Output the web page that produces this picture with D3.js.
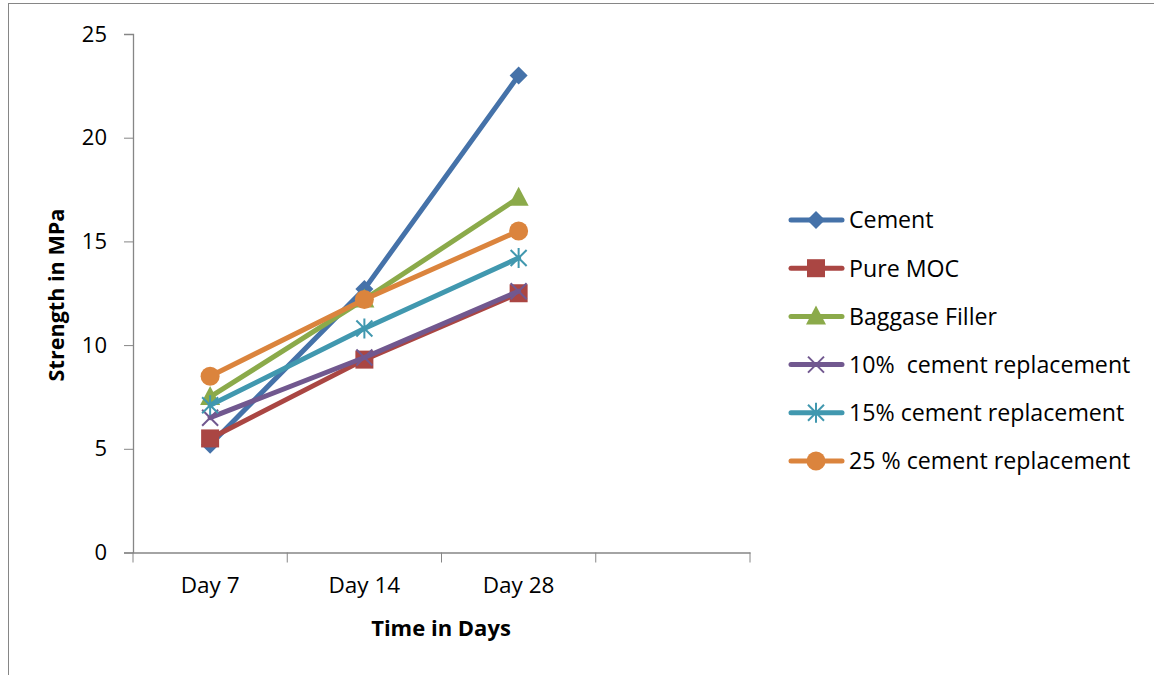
<!DOCTYPE html>
<html><head><meta charset="utf-8">
<script src="https://cdn.jsdelivr.net/npm/d3@7"></script>
<style>body{margin:0;background:#fff}svg{display:block}text{font-family:"Open Sans",Lato,sans-serif}</style>
</head><body><svg id="c" width="1154" height="675"></svg>
<script>
const categories = ["Day 7", "Day 14", "Day 28", ""];
const seriesNames = ["Cement", "Pure MOC", "Baggase Filler", "10%  cement replacement", "15% cement replacement", "25 % cement replacement"];
const cement = [5.2, 12.7, 23.0];
const pureMOC = [5.5, 9.3, 12.5];
const baggase = [7.5, 12.2, 17.1];
const rep10 = [6.5, 9.4, 12.6];
const rep15 = [7.1, 10.8, 14.2];
const rep25 = [8.5, 12.2, 15.5];
const yTicks = [0, 5, 10, 15, 20, 25];
const colors = ["#4572A9", "#AA4643", "#8BAA4A", "#71588F", "#4198AF", "#DB843D"];
const markers = ["diamond", "square", "triangle", "x", "asterisk", "circle"];
const values = [cement, pureMOC, baggase, rep10, rep15, rep25];

const svg = d3.select("#c");
const font = '"Open Sans", Lato, sans-serif';
svg.append("rect").attr("x", 8.5).attr("y", 3.5).attr("width", 1200).attr("height", 700)
  .attr("fill", "none").attr("stroke", "#868686").attr("stroke-width", 1);

const x = d3.scaleBand().domain(categories).range([133, 750]);
const y = d3.scaleLinear().domain([0, 25]).range([552.5, 34]);

const yAxis = svg.append("g").attr("transform", "translate(133,0)")
  .call(d3.axisLeft(y).tickValues(yTicks).tickSize(9).tickPadding(17).tickFormat(d3.format("d")));
const xAxis = svg.append("g").attr("transform", "translate(0,552.5)")
  .call(d3.axisBottom(x).tickSize(0).tickPadding(25));
xAxis.selectAll(".bt").data(categories.map(c => x(c)).concat([750])).enter().append("line")
  .attr("x1", d => d).attr("x2", d => d).attr("y1", 0).attr("y2", 10).attr("stroke", "#868686");
[yAxis, xAxis].forEach(g => {
  g.select(".domain").attr("stroke", "#868686").attr("stroke-width", 1.3);
  g.selectAll(".tick line").attr("stroke", "#868686");
  g.selectAll("text").attr("font-family", font).attr("font-size", 22.5).attr("fill", "#000");
});
yAxis.selectAll("text").attr("font-size", 22);

svg.append("text").attr("transform", "translate(64,295) rotate(-90)").attr("text-anchor", "middle")
  .attr("font-size", 21.6).attr("font-weight", "bold").text("Strength in MPa");
svg.append("text").attr("x", 441).attr("y", 636).attr("text-anchor", "middle")
  .attr("font-size", 22).attr("font-weight", "bold").text("Time in Days");

function drawMarker(g, type, color, cx, cy) {
  if (type === "diamond") {
    g.append("path").attr("d", `M${cx},${cy-9}L${cx+9},${cy}L${cx},${cy+9}L${cx-9},${cy}Z`).attr("fill", color);
  } else if (type === "square") {
    g.append("rect").attr("x", cx-9).attr("y", cy-9).attr("width", 18).attr("height", 18).attr("fill", color);
  } else if (type === "triangle") {
    g.append("path").attr("d", `M${cx},${cy-11}L${cx+10},${cy+8}L${cx-10},${cy+8}Z`).attr("fill", color);
  } else if (type === "x") {
    g.append("path").attr("d", `M${cx-8},${cy-8}L${cx+8},${cy+8}M${cx-8},${cy+8}L${cx+8},${cy-8}`)
      .attr("stroke", color).attr("stroke-width", 2);
  } else if (type === "asterisk") {
    g.append("path").attr("d", `M${cx-8},${cy-8}L${cx+8},${cy+8}M${cx-8},${cy+8}L${cx+8},${cy-8}M${cx},${cy-10}L${cx},${cy+10}`)
      .attr("stroke", color).attr("stroke-width", 2);
  } else {
    g.append("circle").attr("cx", cx).attr("cy", cy).attr("r", 9.5).attr("fill", color);
  }
}

const line = d3.line().x((d, i) => x(categories[i]) + x.bandwidth() / 2).y(d => y(d));
values.forEach((vals, s) => {
  const g = svg.append("g");
  g.append("path").attr("d", line(vals)).attr("fill", "none").attr("stroke", colors[s])
    .attr("stroke-width", 5).attr("stroke-linejoin", "round").attr("stroke-linecap", "round");
  vals.forEach((v, i) => drawMarker(g, markers[s], colors[s], x(categories[i]) + x.bandwidth() / 2, y(v)));
});

seriesNames.forEach((name, s) => {
  const ly = 220 + s * 48.2;
  const g = svg.append("g");
  g.append("line").attr("x1", 791).attr("x2", 842).attr("y1", ly).attr("y2", ly)
    .attr("stroke", colors[s]).attr("stroke-width", 5).attr("stroke-linecap", "round");
  drawMarker(g, markers[s], colors[s], 816, ly);
  g.append("text").attr("x", 849).attr("y", ly).attr("dy", "0.36em").attr("font-size", 23.2)
    .attr("fill", "#000").style("white-space", "pre").text(name);
});
</script></body></html>
